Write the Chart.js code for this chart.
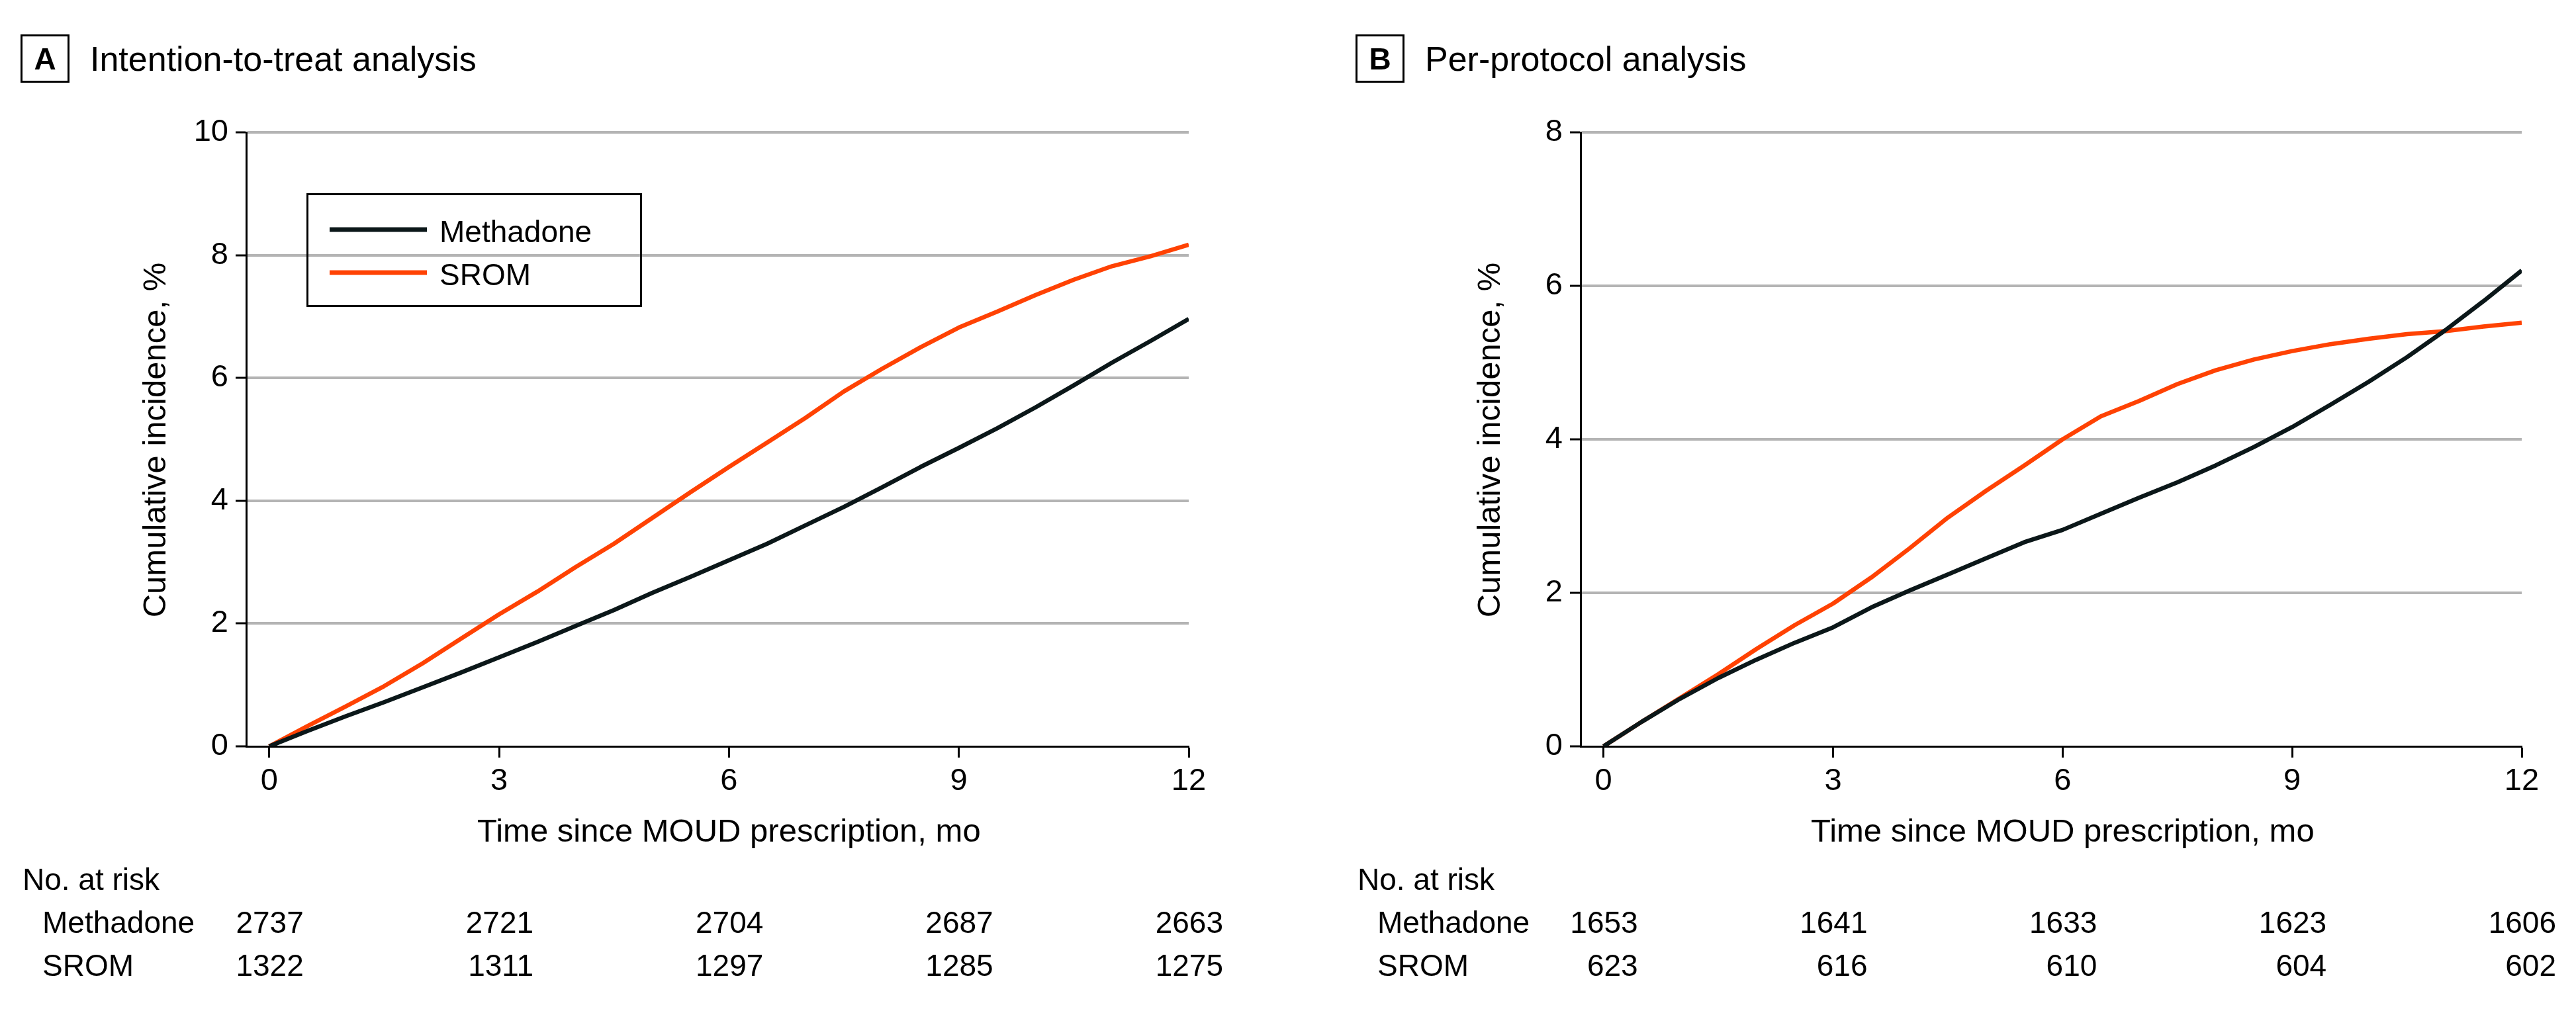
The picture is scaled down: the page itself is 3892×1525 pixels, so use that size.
<!DOCTYPE html>
<html><head><meta charset="utf-8">
<script src="https://cdn.jsdelivr.net/npm/chart.js@4.4.1/dist/chart.umd.min.js"></script>
<style>
html,body{margin:0;padding:0;background:#fff;}
#wrap{position:relative;width:3892px;height:1525px;overflow:hidden;background:#fff;}
canvas{position:absolute;top:0;}
</style></head><body>
<div id="wrap">
<canvas id="cA" width="1946" height="1525" style="left:0;width:1946px;height:1525px"></canvas>
<canvas id="cB" width="1946" height="1525" style="left:1946px;width:1946px;height:1525px"></canvas>
</div>
<script>
// ---- data ----
const months = [0,0.5,1,1.5,2,2.5,3,3.5,4,4.5,5,5.5,6,6.5,7,7.5,8,8.5,9,9.5,10,10.5,11,11.5,12];
const ittMethadone = [0,0.25,0.49,0.72,0.96,1.2,1.45,1.7,1.96,2.22,2.5,2.76,3.03,3.3,3.6,3.9,4.22,4.55,4.86,5.18,5.52,5.88,6.25,6.6,6.96];
const ittSROM = [0,0.33,0.65,0.98,1.35,1.75,2.15,2.52,2.92,3.3,3.72,4.14,4.55,4.95,5.35,5.78,6.15,6.5,6.82,7.08,7.35,7.6,7.82,7.98,8.17];
const ppMethadone = [0,0.32,0.62,0.89,1.13,1.35,1.55,1.81,2.03,2.24,2.45,2.66,2.82,3.03,3.24,3.44,3.66,3.9,4.16,4.45,4.75,5.07,5.42,5.8,6.2];
const ppSROM = [0,0.32,0.63,0.94,1.27,1.58,1.86,2.2,2.58,2.98,3.33,3.66,4.0,4.3,4.5,4.72,4.9,5.04,5.15,5.24,5.31,5.37,5.41,5.47,5.52];
const xTickValues = [0,3,6,9,12];
const riskTimes = [0,3,6,9,12];
const ittRiskMethadone = [2737,2721,2704,2687,2663];
const ittRiskSROM = [1322,1311,1297,1285,1275];
const ppRiskMethadone = [1653,1641,1633,1623,1606];
const ppRiskSROM = [623,616,610,604,602];
const seriesNames = ['Methadone','SROM'];
const seriesColors = ['#0b1719','#ff4203'];
const panelLetters = ['A','B'];
const panelTitles = ['Intention-to-treat analysis','Per-protocol analysis'];
const xAxisTitle = 'Time since MOUD prescription, mo';
const yAxisTitle = 'Cumulative incidence, %';
const riskHeader = 'No. at risk';

const FONT = "'Liberation Sans', Arial, sans-serif";

function pts(xs, ys){ return xs.map((x,i)=>({x:x,y:ys[i]})); }

const decor = {
  id:'decor',
  afterDraw(chart, args, o){
    const ctx = chart.ctx;
    const xs = chart.scales.x, ys = chart.scales.y;
    ctx.save();
    ctx.fillStyle = '#000';
    ctx.strokeStyle = '#000';
    // panel letter box
    ctx.lineWidth = 3;
    ctx.strokeRect(o.boxX + 1.5, 53.5, 71, 70);
    ctx.font = 'bold 46px ' + FONT;
    ctx.textAlign = 'center'; ctx.textBaseline = 'alphabetic';
    ctx.fillText(o.letter, o.boxX + 37, 105);
    // panel title
    ctx.font = '52px ' + FONT;
    ctx.textAlign = 'left';
    ctx.fillText(o.title, o.boxX + 105, 107);
    // y-axis title
    ctx.save();
    ctx.translate(chart.chartArea.left - 122, (chart.chartArea.top + chart.chartArea.bottom)/2 + 1);
    ctx.rotate(-Math.PI/2);
    ctx.font = '49px ' + FONT;
    ctx.textAlign = 'center';
    ctx.fillText(yAxisTitle, 0, 0);
    ctx.restore();
    // x-axis title
    ctx.font = '49px ' + FONT;
    ctx.textAlign = 'center';
    const cx = (xs.getPixelForValue(xTickValues[0]) + xs.getPixelForValue(xTickValues[xTickValues.length-1]))/2;
    ctx.fillText(xAxisTitle, cx, 1272);
    // risk table
    ctx.font = '46px ' + FONT;
    ctx.textAlign = 'left';
    ctx.fillText(riskHeader, o.boxX + 3, 1345);
    ctx.fillText(seriesNames[0], o.boxX + 33, 1410);
    ctx.fillText(seriesNames[1], o.boxX + 33, 1475);
    ctx.textAlign = 'right';
    riskTimes.forEach((t,i)=>{
      const px = xs.getPixelForValue(t) + 52;
      ctx.fillText(String(o.risk[0][i]), px, 1410);
      ctx.fillText(String(o.risk[1][i]), px, 1475);
    });
    // legend
    if (o.legend){
      const L = o.legend;
      ctx.lineWidth = 3;
      ctx.strokeRect(L.x + 1.5, L.y + 1.5, L.w - 3, L.h - 3);
      chart.data.datasets.forEach((ds,i)=>{
        const ly = L.y + 55 + i*65;
        ctx.strokeStyle = ds.borderColor;
        ctx.lineWidth = 7;
        ctx.beginPath(); ctx.moveTo(L.x + 35, ly); ctx.lineTo(L.x + 182, ly); ctx.stroke();
        ctx.fillStyle = '#000';
        ctx.font = '46px ' + FONT;
        ctx.textAlign = 'left';
        ctx.fillText(ds.label, L.x + 201, ly + 19);
      });
    }
    ctx.restore();
  }
};

function makeChart(id, meth, srom, yMax, axisLeft, axisRight, decorOpts){
  const canvasW = 1946, canvasH = 1525, plotTop = 200, plotBottom = 1128;
  return new Chart(document.getElementById(id), {
    type:'line',
    data:{
      datasets:[
        {label:seriesNames[0], data:pts(months, meth), borderColor:seriesColors[0], borderWidth:6.5, pointRadius:0, tension:0, fill:false, borderJoinStyle:'round'},
        {label:seriesNames[1], data:pts(months, srom), borderColor:seriesColors[1], borderWidth:6.5, pointRadius:0, tension:0, fill:false, borderJoinStyle:'round'}
      ]
    },
    options:{
      responsive:false, animation:false, devicePixelRatio:1,
      layout:{padding:{left:0, right:canvasW - axisRight, top:plotTop, bottom:0}},
      plugins:{legend:{display:false}, tooltip:{enabled:false}, title:{display:false}, decor:decorOpts},
      scales:{
        x:{
          type:'linear', min:-0.3, max:12,
          afterBuildTicks: s => { s.ticks = xTickValues.map(v=>({value:v})); },
          afterFit: s => { s.height = canvasH - plotBottom; },
          grid:{drawOnChartArea:false, drawTicks:true, tickLength:17, tickWidth:3, tickColor:'#000'},
          border:{display:true, color:'#000', width:3},
          ticks:{color:'#000', font:{family:FONT, size:47}, padding:8, maxRotation:0, autoSkip:false}
        },
        y:{
          type:'linear', min:0, max:yMax,
          ticks:{stepSize:2, color:'#000', font:{family:FONT, size:47}, padding:11},
          afterFit: s => { s.width = axisLeft; },
          grid:{color: c => (c.tick && c.tick.value === 0) ? 'rgba(0,0,0,0)' : '#b4b4b4', lineWidth:4, drawTicks:true, tickLength:16, tickWidth:3, tickColor:'#000'},
          border:{display:true, color:'#000', width:3}
        }
      }
    },
    plugins:[decor]
  });
}

makeChart('cA', ittMethadone, ittSROM, 10, 372, 1796, {
  letter:panelLetters[0], title:panelTitles[0], boxX:31,
  risk:[ittRiskMethadone, ittRiskSROM],
  legend:{x:463, y:292, w:507, h:172}
});
makeChart('cB', ppMethadone, ppSROM, 8, 442, 1864, {
  letter:panelLetters[1], title:panelTitles[1], boxX:102,
  risk:[ppRiskMethadone, ppRiskSROM],
  legend:null
});
</script>
</body></html>
